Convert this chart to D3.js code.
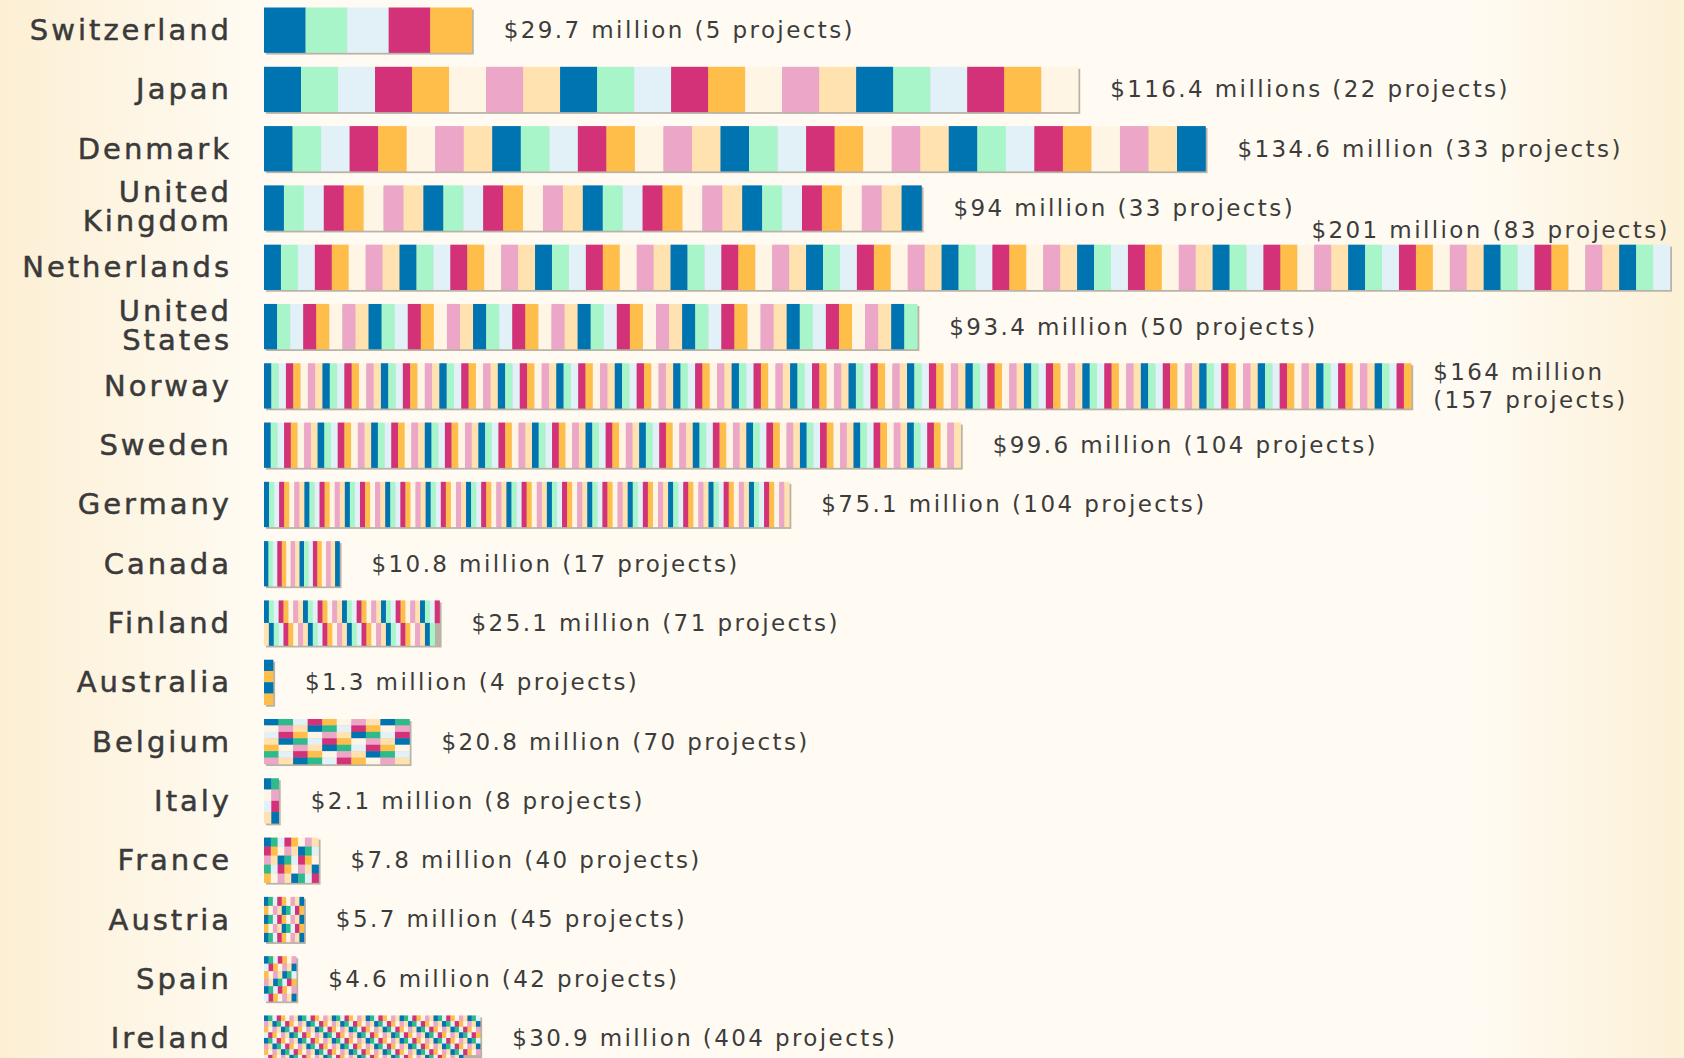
<!DOCTYPE html>
<html>
<head>
<meta charset="utf-8">
<script src="https://cdn.jsdelivr.net/npm/d3@7"></script>
<style>
  html, body { margin: 0; padding: 0; overflow: hidden; }
  body { width: 1684px; height: 1058px; }
  svg { display: block; }
</style>
</head>
<body>
<div id="chart"></div>
<script>
// Donor countries, top to bottom as in the picture
const countries = ["Switzerland", "Japan", "Denmark", "United Kingdom", "Netherlands", "United States",
  "Norway", "Sweden", "Germany", "Canada", "Finland", "Australia", "Belgium", "Italy",
  "France", "Austria", "Spain", "Ireland"];

// Funding in millions of dollars
const amounts = [29.7, 116.4, 134.6, 94, 201, 93.4, 164, 99.6, 75.1, 10.8, 25.1, 1.3, 20.8, 2.1, 7.8, 5.7, 4.6, 30.9];

// Number of projects (one cell each)
const projects = [5, 22, 33, 33, 83, 50, 157, 104, 104, 17, 71, 4, 70, 8, 40, 45, 42, 404];

// How many rows of cells each bar is folded into
const gridRows = [1, 1, 1, 1, 1, 1, 1, 1, 1, 1, 2, 4, 7, 4, 5, 5, 6, 8];

// Value labels as printed
const valueLabels = ["$29.7 million (5 projects)", "$116.4 millions (22 projects)", "$134.6 million (33 projects)",
  "$94 million (33 projects)", "$201 million (83 projects)", "$93.4 million (50 projects)",
  "$164 million (157 projects)", "$99.6 million (104 projects)", "$75.1 million (104 projects)",
  "$10.8 million (17 projects)", "$25.1 million (71 projects)", "$1.3 million (4 projects)",
  "$20.8 million (70 projects)", "$2.1 million (8 projects)", "$7.8 million (40 projects)",
  "$5.7 million (45 projects)", "$4.6 million (42 projects)", "$30.9 million (404 projects)"];

const palette = ["#0073b1", "#a8f5ca", "#e2f0f8", "#d43278", "#ffbd4a", "#fff5e4", "#eba6c8", "#ffe2b0"];
// the small folded grids use a deeper green in place of the mint
const gridPalette = ["#0073b1", "#2dbb8c", "#e2f0f8", "#d43278", "#ffbd4a", "#fff5e4", "#eba6c8", "#ffe2b0"];

const width = 1684, height = 1058;

const data = countries.map((c, i) => ({
  country: c, amount: amounts[i], n: projects[i], rows: gridRows[i], label: valueLabels[i]
}));

const x = d3.scaleLinear().domain([0, 201]).range([264, 1670]);
const y = d3.scaleBand().domain(countries).range([7.5, 1060.5]).paddingInner(0.24).paddingOuter(0);

const svg = d3.select("#chart").append("svg")
    .attr("width", width)
    .attr("height", height);

// soft cream background, darker at both edges
const grad = svg.append("defs").append("linearGradient").attr("id", "bg");
[[0, "#fcefd4"], [0.15, "#fffbf2"], [0.88, "#fffbf2"], [1, "#fcf0d6"]].forEach(([o, c]) =>
  grad.append("stop").attr("offset", o).attr("stop-color", c));
svg.append("rect").attr("width", width).attr("height", height).attr("fill", "url(#bg)");

const row = svg.selectAll("g.row")
  .data(data)
  .join("g")
    .attr("class", "row")
    .attr("transform", d => `translate(0,${y(d.country)})`);

// drop shadow
row.append("rect")
    .attr("x", x(0) + 2)
    .attr("y", 2)
    .attr("width", d => x(d.amount) - x(0))
    .attr("height", y.bandwidth())
    .attr("fill", "#b9b2a6");

// project cells
row.each(function (d) {
  const cols = Math.ceil(d.n / d.rows);
  const cx = d3.scaleBand().domain(d3.range(cols)).range([x(0), x(d.amount)]);
  const cy = d3.scaleBand().domain(d3.range(d.rows)).range([0, y.bandwidth()]);
  const pal = d.rows >= 4 ? gridPalette : palette;
  d3.select(this).selectAll("rect.cell")
    .data(d3.range(d.n))
    .join("rect")
      .attr("class", "cell")
      .attr("x", k => cx(k % cols))
      .attr("y", k => cy(Math.floor(k / cols)))
      .attr("width", cx.bandwidth() + 0.25)
      .attr("height", cy.bandwidth() + 0.25)
      .attr("fill", k => pal[(k + Math.floor(k / cols) * 3) % pal.length]);
});

// country names
row.append("text")
    .attr("x", 232)
    .attr("y", y.bandwidth() / 2)
    .attr("text-anchor", "end")
    .style("font-family", "'DejaVu Sans', sans-serif")
    .style("font-size", "29px")
    .style("letter-spacing", "3px")
    .attr("fill", "#3a3a3a")
    .attr("stroke", "#3a3a3a")
    .attr("stroke-width", 0.5)
  .selectAll("tspan")
  .data(d => d.country.startsWith("United") ? d.country.split(" ") : [d.country])
  .join("tspan")
    .attr("x", 232)
    .attr("dy", (t, i, nodes) => nodes.length > 1 ? (i === 0 ? "-0.2em" : "1.0em") : "0.35em")
    .text(t => t);

// value labels
const lab = row.append("text")
    .style("font-family", "'DejaVu Sans', sans-serif")
    .style("font-size", "23px")
    .style("letter-spacing", "2.4px")
    .attr("fill", "#3c3c3c");

lab.each(function (d) {
  const t = d3.select(this);
  if (d.country === "Netherlands") {
    t.attr("x", x(d.amount)).attr("y", -7).attr("text-anchor", "end").text(d.label);
  } else if (d.country === "Norway") {
    const parts = d.label.split(" (");
    t.attr("y", y.bandwidth() / 2);
    t.append("tspan").attr("x", x(d.amount) + 22).attr("dy", "-0.25em").text(parts[0]);
    t.append("tspan").attr("x", x(d.amount) + 22).attr("dy", "1.2em").text("(" + parts[1]);
  } else {
    t.attr("x", x(d.amount) + 32).attr("y", y.bandwidth() / 2).attr("dy", "0.35em").text(d.label);
  }
});
</script>
</body>
</html>
